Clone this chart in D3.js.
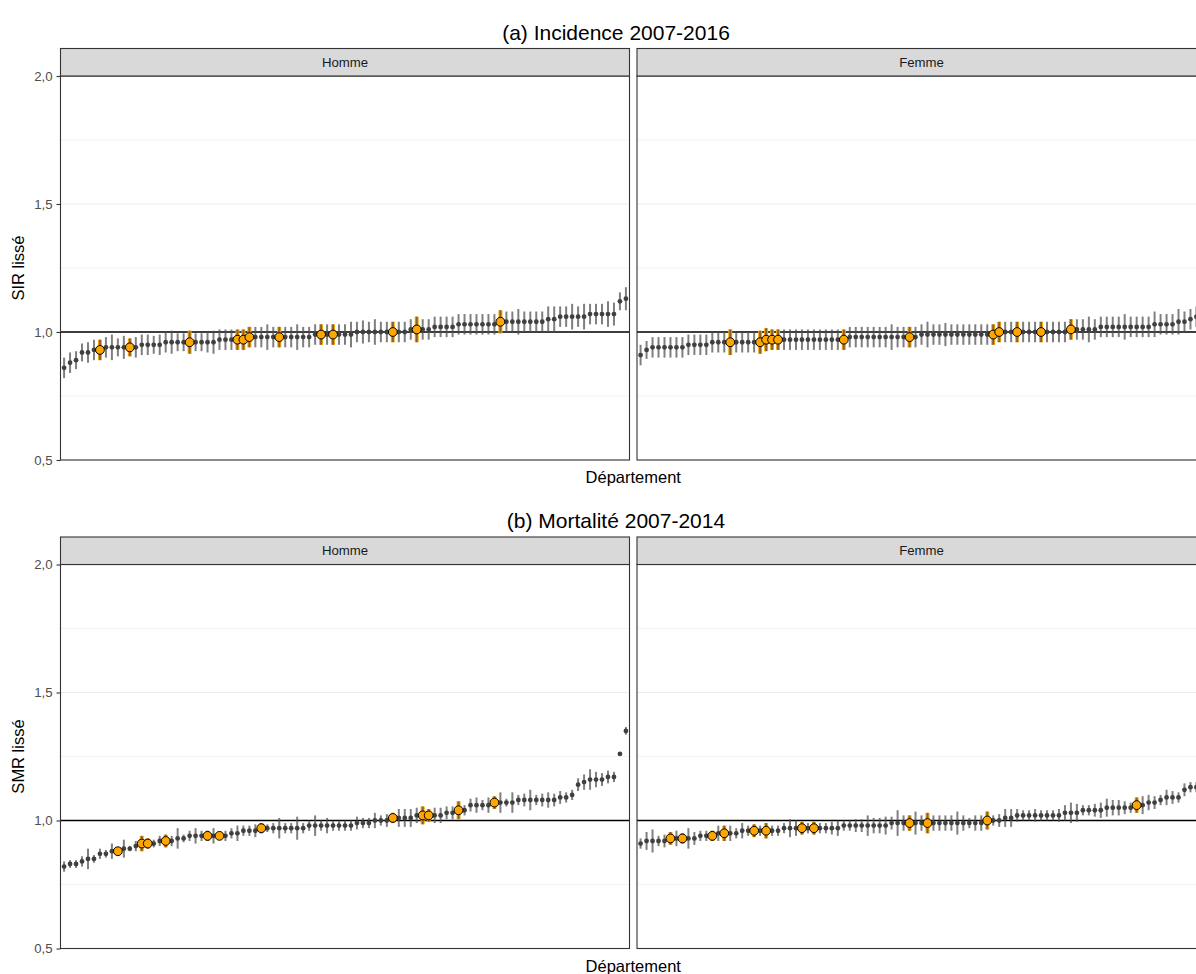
<!DOCTYPE html>
<html>
<head>
<meta charset="utf-8">
<script src="https://cdn.jsdelivr.net/npm/d3@7"></script>
<style>
  body { margin: 0; background: #fff; }
  text { font-family: "Liberation Sans", Arial, Helvetica, sans-serif; }
</style>
</head>
<body>
<div id="chart"></div>
<script>

// ---- data (departements sorted per panel) ----

var sexes = ["Homme", "Femme"];
var yTicks = [0.5, 1.0, 1.5, 2.0];
var yMinor = [0.75, 1.25, 1.75];

// (a) incidence, hommes
var sirHomme = [
  0.86,0.88,0.89,0.92,0.92,0.93,0.93,0.94,0.94,0.94,
  0.94,0.94,0.94,0.95,0.95,0.95,0.95,0.96,0.96,0.96,
  0.96,0.96,0.96,0.96,0.96,0.96,0.97,0.97,0.97,0.97,
  0.97,0.98,0.98,0.98,0.98,0.98,0.98,0.98,0.98,0.98,
  0.98,0.98,0.99,0.99,0.99,0.99,0.99,0.99,0.99,1.00,
  1.00,1.00,1.00,1.00,1.00,1.00,1.00,1.00,1.01,1.01,
  1.01,1.01,1.02,1.02,1.02,1.02,1.03,1.03,1.03,1.03,
  1.03,1.03,1.03,1.04,1.04,1.04,1.04,1.04,1.04,1.04,
  1.04,1.05,1.05,1.06,1.06,1.06,1.06,1.06,1.07,1.07,
  1.07,1.07,1.07,1.12,1.13];
// half width of the interval, in hundredths
var sirHommeErr = [
  4,4,3.5,3.5,4,4,4,4,5,3.5,
  4.5,3.5,4,4,4,3.5,4,4,4.5,3.5,
  3.5,4.5,3.5,3.5,4,4.5,4,4,4,4,
  4,4,4,4,5,4,4,4,4,5,
  4,4,4,4,4,4,4,4,5,4,
  4.5,4,5,4,4,4,4,4,4,5,
  4,4,4,4,4,4,4,4,4,4,
  4,4,4,4.5,4,4,5,4,4,4,
  4,5,5,4,4,5,4,5,4,4,
  4,5,4.5,3.5,4.5];
var sirHommeRegion = [6, 11, 21, 29, 30, 31, 36, 43, 45, 55, 59, 73];

// (a) incidence, femmes
var sirFemme = [
  0.91,0.93,0.94,0.94,0.94,0.94,0.94,0.94,0.95,0.95,
  0.95,0.95,0.96,0.96,0.96,0.96,0.96,0.96,0.96,0.96,
  0.96,0.97,0.97,0.97,0.97,0.97,0.97,0.97,0.97,0.97,
  0.97,0.97,0.97,0.97,0.97,0.98,0.98,0.98,0.98,0.98,
  0.98,0.98,0.98,0.98,0.98,0.98,0.98,0.99,0.99,0.99,
  0.99,0.99,0.99,0.99,0.99,0.99,0.99,0.99,0.99,0.99,
  1.00,1.00,1.00,1.00,1.00,1.00,1.00,1.00,1.00,1.00,
  1.00,1.00,1.01,1.01,1.01,1.01,1.01,1.02,1.02,1.02,
  1.02,1.02,1.02,1.02,1.02,1.02,1.03,1.03,1.03,1.03,
  1.04,1.04,1.05,1.06,1.06];
var sirFemmeErr = [
  4,3.5,4,4,4,4,4,4,4,4,
  4,4,4,4,4,5,4,4,4,4,
  4.5,4.5,4,4,4,4,4,4,4,4,
  4,4,4,4,4,4,4,4,4,4,
  4,4,5,4,4,4,4,4,5,4,
  4,4.5,4,4,4,4,4,4,4,4,
  4,4,4,4,4,4,4,4,4,4,
  4,4,4,4,4,5,4,4,4,4,
  4,5,4,4,4,4,5,4,4,4,
  5,4,4,4,4];
var sirFemmeRegion = [15, 20, 21, 22, 23, 34, 45, 59, 60, 63, 67, 72];

// (b) mortalite, hommes
var smrHomme = [
  0.82,0.83,0.83,0.84,0.85,0.85,0.87,0.87,0.88,0.88,
  0.89,0.89,0.90,0.91,0.91,0.91,0.92,0.92,0.92,0.93,
  0.93,0.94,0.94,0.94,0.94,0.94,0.94,0.94,0.95,0.95,
  0.96,0.96,0.96,0.97,0.97,0.97,0.97,0.97,0.97,0.97,
  0.97,0.98,0.98,0.98,0.98,0.98,0.98,0.98,0.98,0.99,
  0.99,0.99,1.00,1.00,1.00,1.01,1.01,1.01,1.01,1.02,
  1.02,1.02,1.02,1.02,1.03,1.03,1.04,1.04,1.06,1.06,
  1.06,1.06,1.07,1.07,1.07,1.07,1.08,1.08,1.08,1.08,
  1.08,1.08,1.08,1.09,1.09,1.10,1.14,1.15,1.16,1.16,
  1.16,1.17,1.17,1.26,1.35];
var smrHommeErr = [
  2,1.5,1.5,2,4,1.5,2,1.5,3,1.5,
  3.5,1,2,3,2,1.5,2,2.5,2,4,
  1.5,2,3,2,2,3,1.5,2,2,3,
  2,2,2.5,2,1.5,2,4,2,2,4.5,
  2,2,4,2,3,2,2,2,2,2.5,
  2,2,3,2,2.5,2,3.5,3.5,3.5,3,
  3.5,2.5,3,3,2.5,2.5,3.5,2,2.5,3,
  2,3,2.5,4,1.5,4,2,2.5,4,2,
  2.5,3,2.5,2.5,2,2,2.5,3,4,3,
  2.5,2.5,2,0.5,1.5];
var smrHommeRegion = [9, 13, 14, 17, 24, 26, 33, 55, 60, 61, 66, 72];

// (b) mortalite, femmes
var smrFemme = [
  0.91,0.92,0.92,0.92,0.92,0.93,0.93,0.93,0.93,0.93,
  0.94,0.94,0.94,0.95,0.95,0.95,0.95,0.96,0.96,0.96,
  0.96,0.96,0.96,0.96,0.97,0.97,0.97,0.97,0.97,0.97,
  0.97,0.97,0.97,0.97,0.98,0.98,0.98,0.98,0.98,0.98,
  0.98,0.98,0.99,0.99,0.99,0.99,0.99,0.99,0.99,0.99,
  0.99,0.99,0.99,0.99,0.99,0.99,0.99,0.99,1.00,1.00,
  1.00,1.01,1.01,1.02,1.02,1.02,1.02,1.02,1.02,1.02,
  1.02,1.03,1.03,1.03,1.04,1.04,1.04,1.04,1.05,1.05,
  1.05,1.05,1.05,1.06,1.06,1.07,1.07,1.08,1.09,1.09,
  1.09,1.12,1.13,1.13,1.14];
var smrFemmeErr = [
  2,3.5,4.5,2,2.5,2.5,3,2,4,2.5,
  2,2,2,3,3,3,2,3,2,2.5,
  2,3,2,2,2,3.5,3,2.5,2,2.5,
  2,2,2.5,3,2,2,2.5,2.5,4,3,
  3,3.5,2.5,5,3,3,4.5,3,4,3,
  3,3,3,4.5,3,2,3,3,3.5,2,
  2.5,3.5,3.5,2.5,2,2,2.5,2,2,2,
  2.5,3,4,3.5,2,2,2.5,3,3.5,3,
  3,2.5,2,3,3.5,3,2.5,2,3,2.5,
  2,2.5,2,2,2];
var smrFemmeRegion = [5, 7, 12, 14, 19, 21, 27, 29, 45, 48, 58, 83];

// ---- layout ----

var W = 1196, H = 974;
var panelX = [60.5, 637];
var panelW = 569;
var stripH = 27.5;
var panelH = 384;

var rows = [
  {title: "(a) Incidence 2007-2016", ylab: "SIR lissé", top: 48.5,
   panels: [
     {v: sirHomme, e: sirHommeErr, reg: sirHommeRegion},
     {v: sirFemme, e: sirFemmeErr, reg: sirFemmeRegion}]},
  {title: "(b) Mortalité 2007-2014", ylab: "SMR lissé", top: 537,
   panels: [
     {v: smrHomme, e: smrHommeErr, reg: smrHommeRegion},
     {v: smrFemme, e: smrFemmeErr, reg: smrFemmeRegion}]}
];

var svg = d3.select("#chart").append("svg")
  .attr("width", W)
  .attr("height", H);

var fmt = function(d){ return d3.format(".1f")(d).replace(".", ","); };

rows.forEach(function(row){
  var panelTop = row.top + stripH;

  var y = d3.scaleLinear()
    .domain([0.5, 2])
    .range([panelTop + panelH, panelTop]);

  // title
  svg.append("text")
    .attr("x", 616)
    .attr("y", row.top - 9)
    .attr("text-anchor", "middle")
    .attr("font-size", "21px")
    .attr("fill", "#000")
    .text(row.title);

  // y axis title
  svg.append("text")
    .attr("transform", "translate(24," + (panelTop + panelH/2) + ") rotate(-90)")
    .attr("text-anchor", "middle")
    .attr("font-size", "16.5px")
    .text(row.ylab);

  // x axis title
  svg.append("text")
    .attr("x", (panelX[0] + panelX[1] + panelW)/2)
    .attr("y", panelTop + panelH + 23)
    .attr("text-anchor", "middle")
    .attr("font-size", "16.5px")
    .text("Département");

  // y axis on the first panel
  var yAxis = d3.axisLeft(y)
    .tickValues(yTicks)
    .tickFormat(fmt)
    .tickSize(4)
    .tickPadding(4);
  var ga = svg.append("g")
    .attr("transform", "translate(" + panelX[0] + ",0)")
    .call(yAxis);
  ga.select(".domain").remove();
  ga.selectAll(".tick line").attr("stroke", "#333").attr("stroke-width", 1.1);
  ga.selectAll(".tick text")
    .attr("fill", "#4d4d4d")
    .attr("font-size", "13.2px")
    .style("font-family", "'Liberation Sans', Arial, Helvetica, sans-serif");

  row.panels.forEach(function(p, k){
    var x0 = panelX[k];
    var x = d3.scalePoint()
      .domain(d3.range(p.v.length))
      .range([x0, x0 + panelW])
      .padding(0.6);

    var g = svg.append("g");

    // grid
    g.selectAll(".minor").data(yMinor).enter().append("line")
      .attr("x1", x0).attr("x2", x0 + panelW)
      .attr("y1", function(d){ return y(d); })
      .attr("y2", function(d){ return y(d); })
      .attr("stroke", "#ebebeb").attr("stroke-width", 0.7);
    g.selectAll(".major").data(yTicks).enter().append("line")
      .attr("x1", x0).attr("x2", x0 + panelW)
      .attr("y1", function(d){ return y(d); })
      .attr("y2", function(d){ return y(d); })
      .attr("stroke", "#ebebeb").attr("stroke-width", 1.1);

    // reference line at 1
    g.append("line")
      .attr("x1", x0).attr("x2", x0 + panelW)
      .attr("y1", y(1)).attr("y2", y(1))
      .attr("stroke", "#000").attr("stroke-width", 1.5);

    var data = p.v.map(function(v, i){
      return {i: i, v: v, lo: v - p.e[i]/100, hi: v + p.e[i]/100,
              reg: p.reg.indexOf(i) >= 0};
    });
    var reg = data.filter(function(d){ return d.reg; });

    // intervals: region first (orange, wider), then every departement in grey
    g.selectAll(".rbar").data(reg).enter().append("line")
      .attr("x1", function(d){ return x(d.i); })
      .attr("x2", function(d){ return x(d.i); })
      .attr("y1", function(d){ return y(d.lo); })
      .attr("y2", function(d){ return y(d.hi); })
      .attr("stroke", "#ffa500")
      .attr("stroke-width", 4);

    g.selectAll(".bar").data(data).enter().append("line")
      .attr("x1", function(d){ return x(d.i); })
      .attr("x2", function(d){ return x(d.i); })
      .attr("y1", function(d){ return y(d.lo); })
      .attr("y2", function(d){ return y(d.hi); })
      .attr("stroke", "#4d4d4d")
      .attr("stroke-opacity", 0.72)
      .attr("stroke-width", 2);

    g.selectAll(".pt").data(data.filter(function(d){ return !d.reg; })).enter()
      .append("circle")
      .attr("cx", function(d){ return x(d.i); })
      .attr("cy", function(d){ return y(d.v); })
      .attr("r", 2.4)
      .attr("fill", "#404040");

    // departements of the region
    g.selectAll(".rpt").data(reg).enter().append("circle")
      .attr("cx", function(d){ return x(d.i); })
      .attr("cy", function(d){ return y(d.v); })
      .attr("r", 4.4)
      .attr("fill", "#ffa500")
      .attr("stroke", "#000")
      .attr("stroke-width", 1);

    // border and strip
    g.append("rect")
      .attr("x", x0).attr("y", panelTop)
      .attr("width", panelW).attr("height", panelH)
      .attr("fill", "none").attr("stroke", "#333").attr("stroke-width", 1.1);
    g.append("rect")
      .attr("x", x0).attr("y", row.top)
      .attr("width", panelW).attr("height", stripH)
      .attr("fill", "#d9d9d9").attr("stroke", "#333").attr("stroke-width", 1.1);
    g.append("text")
      .attr("x", x0 + panelW/2)
      .attr("y", row.top + stripH/2 + 4.5)
      .attr("text-anchor", "middle")
      .attr("font-size", "13.2px")
      .attr("fill", "#1a1a1a")
      .text(sexes[k]);
  });
});
</script>
</body>
</html>
